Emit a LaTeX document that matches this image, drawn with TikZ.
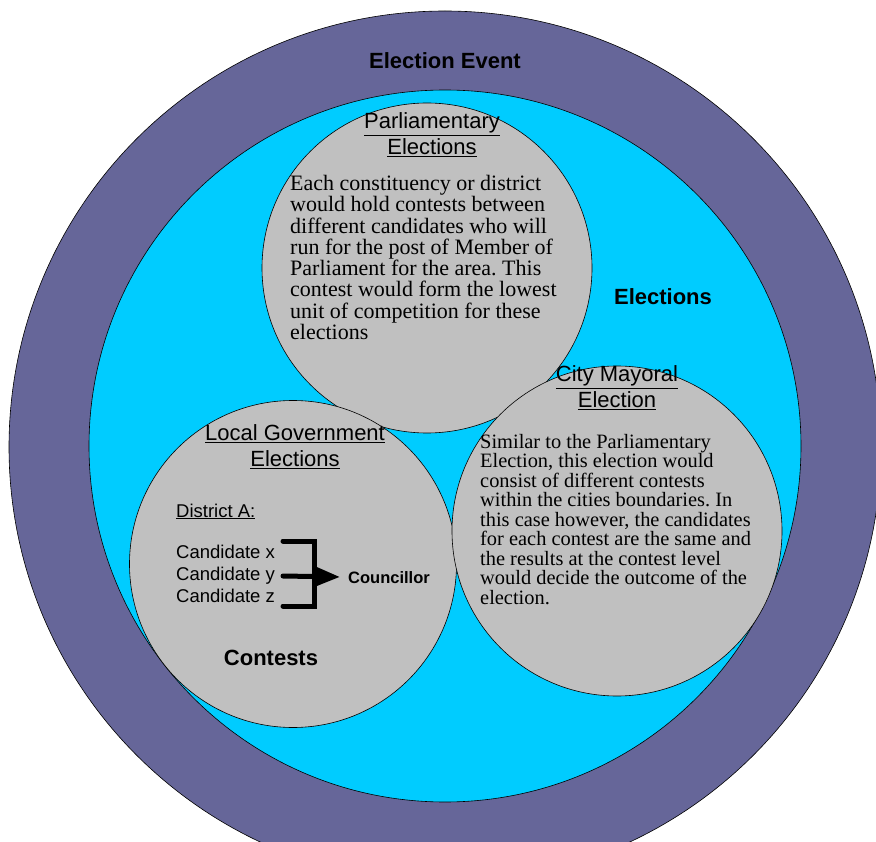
\documentclass[tikz,border=0pt]{standalone}
\usepackage{fontspec}
\setmainfont{Liberation Serif}
\setsansfont{Liberation Sans}
\usetikzlibrary{arrows.meta}
\definecolor{eventpurple}{RGB}{102,102,153}
\definecolor{electcyan}{RGB}{0,204,255}
\definecolor{contestgray}{RGB}{192,192,192}
\frenchspacing
\tikzset{
  ring/.style={circle,draw=black,line width=0.6pt,inner sep=0pt},
  heading/.style={font=\sffamily\fontsize{22}{26}\selectfont,align=center,inner sep=0pt},
  bighead/.style={font=\sffamily\bfseries\fontsize{22}{26}\selectfont,inner sep=0pt},
  bodytext/.style={align=left,inner sep=0pt,anchor=north west},
  candtext/.style={font=\sffamily\fontsize{18.5}{22}\selectfont,inner sep=0pt,anchor=base west},
  bracket/.style={line width=5pt,line cap=round}
}

\begin{document}
\begin{tikzpicture}[x=1pt,y=-1pt]
    \useasboundingbox (0,0) rectangle (876,842);
    \clip (0,0) rectangle (876,842);
    % nested circles
    \node[ring,fill=eventpurple,minimum size=872pt](event) at (445,447){};
    \node[ring,fill=electcyan,minimum size=712pt](elect) at (445,446){};
    \node[ring,fill=contestgray,minimum size=330pt](parl) at (427,268){};
    \node[ring,fill=contestgray,minimum size=327pt](local) at (293,564){};
    \node[ring,fill=contestgray,minimum size=330pt](mayor) at (617,531){};
    % labels
    \node[bighead](eventlbl) at (445,61){Election Event};
    \node[bighead](electlbl) at (663,297){Elections};
    \node[bighead](contestlbl) at (271,658){Contests};
    \node[heading](parlhead) at (432,135){\underline{Parliamentary}\\\underline{Elections}};
    \node[heading](mayorhead) at (617,388){\underline{City Mayoral}\\\underline{Election}};
    \node[heading](localhead) at (295,447){\underline{Local Government}\\\underline{Elections}};
    \node[bodytext,font=\fontsize{22}{21.3}\selectfont](parltext) at (290,175){%
        Each constituency or district\\
        would hold contests between\\
        different candidates who will\\
        run for the post of Member of\\
        Parliament for the area. This\\
        contest would form the lowest\\
        unit of competition for these\\
        elections};
    \node[bodytext,font=\fontsize{20.4}{19.5}\selectfont](mayortext) at (480,434){%
        Similar to the Parliamentary\\
        Election, this election would\\
        consist of different contests\\
        within the cities boundaries. In\\
        this case however, the candidates\\
        for each contest are the same and\\
        the results at the contest level\\
        would decide the outcome of the\\
        election.};
    % district A
    \node[candtext](district) at (176,517){\underline{District A:}};
    \node[candtext](candx) at (176,558){Candidate x};
    \node[candtext](candy) at (176,580){Candidate y};
    \node[candtext](candz) at (176,602){Candidate z};
    \node[candtext,font=\sffamily\bfseries\fontsize{16.5}{20}\selectfont](councillor) at (348,583){Councillor};
    \coordinate (brtop) at (283,541);
    \coordinate (brmid) at (283,576);
    \coordinate (brbot) at (283,606);
    \draw[bracket] (brtop) -| (brbot -| 314,0) -- (brbot);
    \draw[bracket,-{Triangle[length=25pt,width=19pt]},shorten >=8pt] (brmid) -- (councillor.west);
\end{tikzpicture}
\end{document}
